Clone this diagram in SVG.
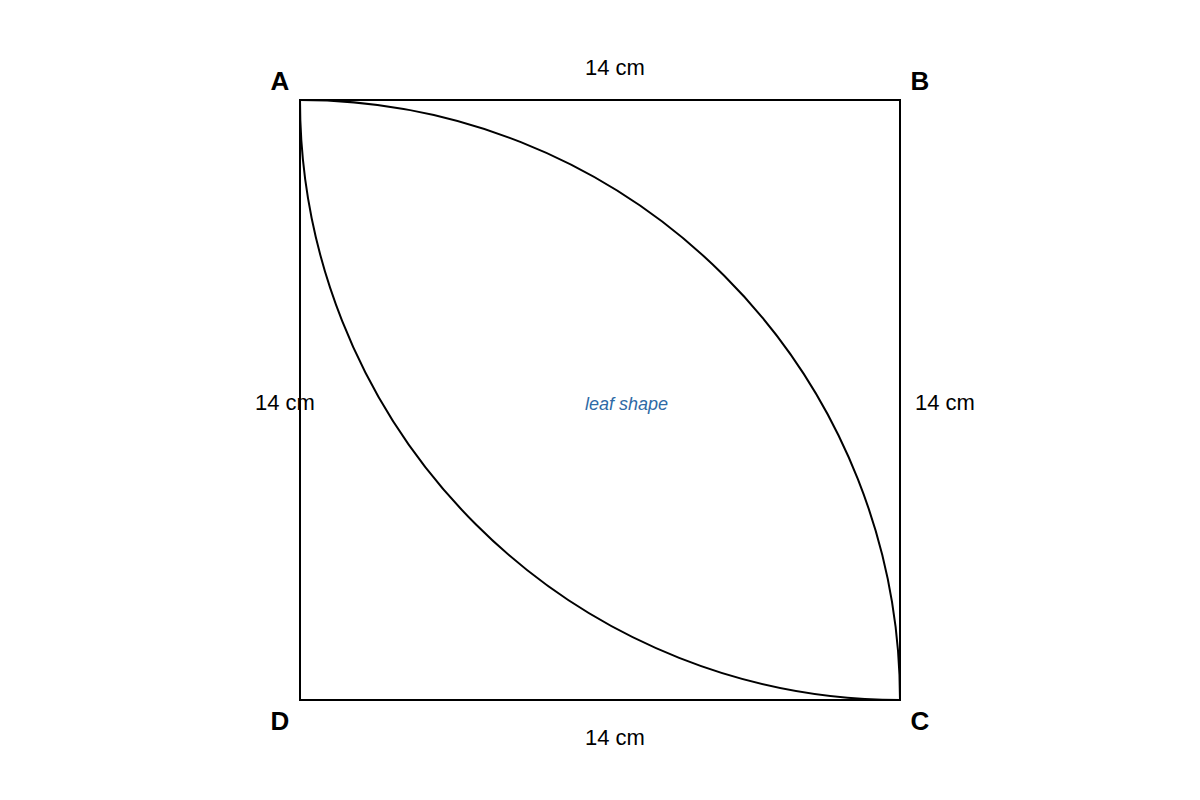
<svg xmlns="http://www.w3.org/2000/svg" width="1200" height="800" viewBox="0 0 1200 800">
<style>
.edge{fill:none;stroke:#000;stroke-width:2}
.v{font-family:"Liberation Sans",Arial,sans-serif;font-size:26px;font-weight:bold;fill:#000;text-anchor:middle}
.d{font-family:"Liberation Sans",Arial,sans-serif;font-size:22px;fill:#000;text-anchor:middle}
.n{font-family:"Liberation Sans",Arial,sans-serif;font-size:18px;font-style:italic;fill:#2e6aa6;text-anchor:middle}
</style>
<rect width="1200" height="800" fill="#fff"/>
<g id="connectors">
<rect class="edge" x="300" y="100" width="600" height="600"/>
<path class="edge" d="M300,100 A600,600 0 0 1 900,700"/>
<path class="edge" d="M300,100 A600,600 0 0 0 900,700"/>
</g>
<g id="A"><text class="v" x="280" y="90">A</text></g>
<g id="B"><text class="v" x="920" y="90">B</text></g>
<g id="C"><text class="v" x="920" y="730">C</text></g>
<g id="D"><text class="v" x="280" y="730">D</text></g>
<g id="dims">
<text class="d" x="615" y="75">14 cm</text>
<text class="d" x="615" y="745">14 cm</text>
<text class="d" x="285" y="410">14 cm</text>
<text class="d" x="945" y="410">14 cm</text>
</g>
<g id="leaf"><text class="n" x="626.5" y="410">leaf shape</text></g>
</svg>
